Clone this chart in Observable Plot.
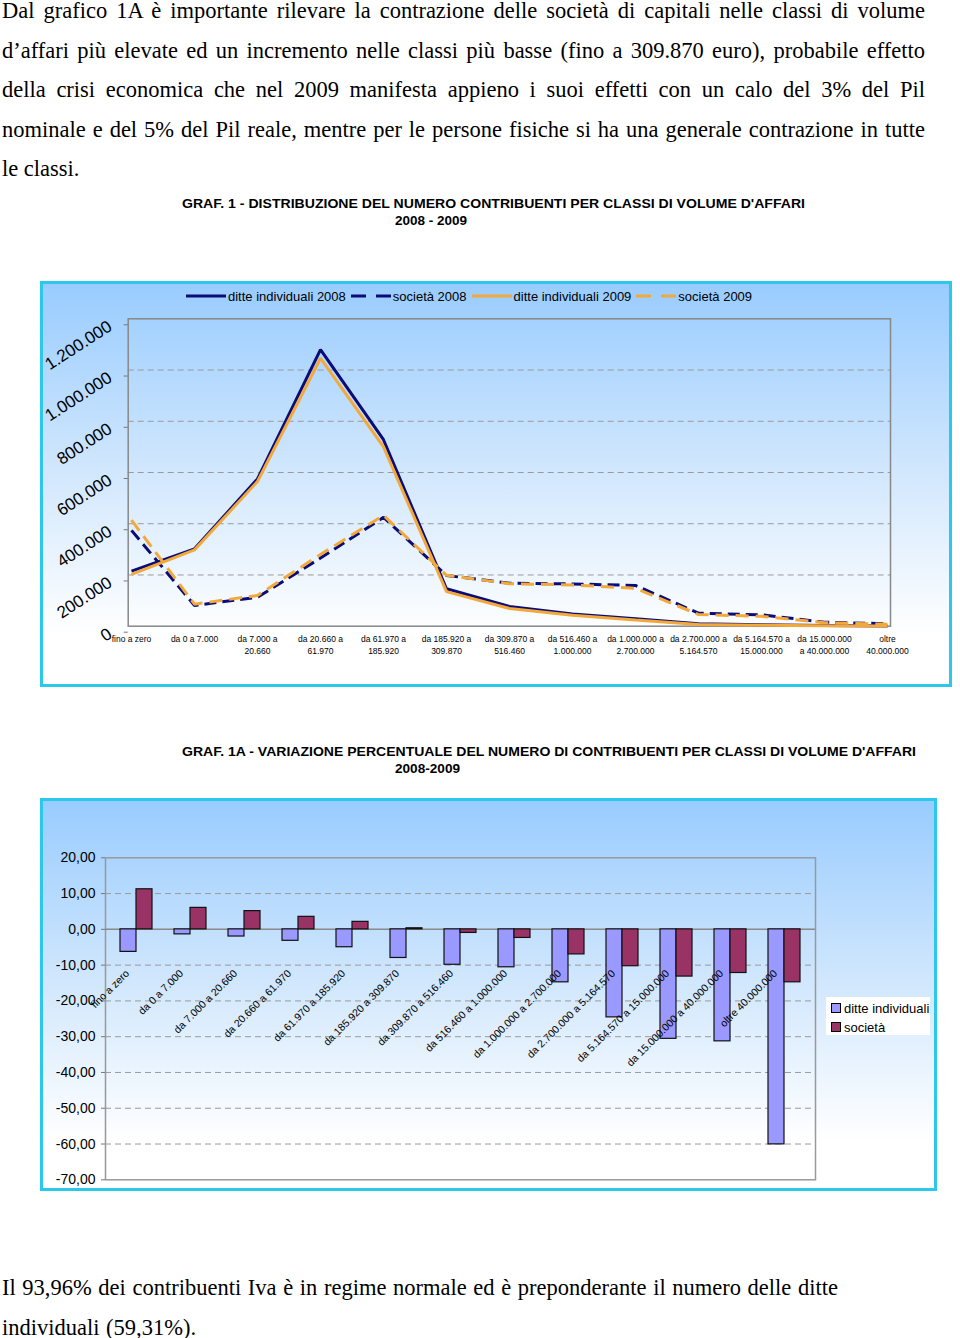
<!DOCTYPE html>
<html><head><meta charset="utf-8">
<script src="https://cdn.jsdelivr.net/npm/d3@7"></script>
<script src="https://cdn.jsdelivr.net/npm/@observablehq/plot@0.6"></script>
<style>
body{margin:0;background:#fff;width:960px;height:1338px;position:relative;overflow:hidden;font-family:"Liberation Sans",Arial,sans-serif;color:#000;}
.para{position:absolute;left:2px;width:923px;font-family:"Liberation Serif","Times New Roman",serif;font-size:22.5px;line-height:39.5px;color:#000;}
.para div{white-space:nowrap;text-align:justify;text-align-last:justify;}
.para div.last{text-align-last:left;}
.para.left div{text-align:left;text-align-last:left;word-spacing:1px;}
.box{position:absolute;box-sizing:border-box;border:3px solid #2cc8ec;background:linear-gradient(to bottom,#99ccff 0%,#cfe6fd 45%,#ffffff 88%);}
.box svg{position:absolute;left:0;top:0;overflow:visible;}
.ttl{position:absolute;left:0;width:960px;height:40px;overflow:visible;}
.leg1{position:absolute;display:flex;align-items:center;gap:5px;font-size:13px;white-space:nowrap;}
.leg1 .it{display:flex;align-items:center;gap:2px;}
.leg2{position:absolute;background:#fff;font-size:13px;box-sizing:border-box;padding:2px 0 0 5px;line-height:19px;}
.leg2 .sq{display:inline-block;width:8px;height:8px;border:1px solid #000;margin-right:3px;vertical-align:0px;}
</style></head>
<body>
<script>
// ---------- DATA ----------
const categories = ["fino a zero","da 0 a 7.000","da 7.000 a 20.660","da 20.660 a 61.970","da 61.970 a 185.920","da 185.920 a 309.870","da 309.870 a 516.460","da 516.460 a 1.000.000","da 1.000.000 a 2.700.000","da 2.700.000 a 5.164.570","da 5.164.570 a 15.000.000","da 15.000.000 a 40.000.000","oltre 40.000.000"];
const categoryLabels1 = ["fino a zero","da 0 a 7.000","da 7.000 a\n20.660","da 20.660 a\n61.970","da 61.970 a\n185.920","da 185.920 a\n309.870","da 309.870 a\n516.460","da 516.460 a\n1.000.000","da 1.000.000 a\n2.700.000","da 2.700.000 a\n5.164.570","da 5.164.570 a\n15.000.000","da 15.000.000\na 40.000.000","oltre\n40.000.000"];
const series1 = ["ditte individuali 2008","società 2008","ditte individuali 2009","società 2009"];
const ditte2008   = [215000, 302000, 575000, 1080000, 728000, 146000, 77000, 48000, 29000, 9500, 5500, 2500, 1000];
const societa2008 = [374000, 81000, 113000, 266000, 425000, 198000, 168000, 165000, 159000, 51000, 44500, 15500, 9500];
const ditte2009   = [202000, 298000, 565000, 1046000, 700000, 135000, 69000, 42500, 24000, 7000, 3800, 1700, 400];
const societa2009 = [414000, 86000, 120000, 280000, 433000, 199000, 166000, 161000, 148000, 45500, 38500, 13500, 8000];
const yTicks1 = [0, 200000, 400000, 600000, 800000, 1000000, 1200000];

const series2 = ["ditte individuali","società"];
const varDitte   = [-6.3, -1.4, -2.0, -3.2, -5.0, -8.0, -9.9, -10.6, -14.8, -24.6, -30.6, -31.3, -60.1];
const varSocieta = [11.2, 6.0, 5.1, 3.5, 2.1, 0.3, -1.0, -2.4, -7.0, -10.3, -13.2, -12.2, -14.8];
const yTicks2 = [20, 10, 0, -10, -20, -30, -40, -50, -60, -70];

const paraTop = ["Dal grafico 1A  è  importante rilevare la contrazione delle società  di capitali nelle classi di volume",
 "d’affari più elevate ed un incremento nelle classi più basse (fino a 309.870 euro), probabile effetto",
 "della crisi economica che nel 2009 manifesta appieno i suoi effetti con un  calo del 3% del Pil",
 "nominale e del 5% del Pil reale, mentre per le persone fisiche si ha una generale contrazione in tutte",
 "le classi."];
const paraBottom = ["Il 93,96% dei contribuenti Iva è in regime normale ed è preponderante il numero delle ditte",
 "individuali (59,31%)."];
const title1 = ["GRAF. 1 - DISTRIBUZIONE DEL NUMERO CONTRIBUENTI PER CLASSI DI VOLUME D'AFFARI", "2008 - 2009"];
const title2 = ["GRAF. 1A - VARIAZIONE PERCENTUALE DEL NUMERO DI CONTRIBUENTI PER CLASSI DI  VOLUME D'AFFARI", "2008-2009"];

const navy = "#0c0c78", orange = "#f3a83a", lilac = "#9999ff", wine = "#993366";
const seriesStyle = {
  "ditte individuali 2008": {stroke: navy, dash: null},
  "società 2008": {stroke: navy, dash: "12,6"},
  "ditte individuali 2009": {stroke: orange, dash: null},
  "società 2009": {stroke: orange, dash: "13,7"}
};

// ---------- helpers ----------
function addPara(lines, top, cls) {
  const p = document.createElement("div");
  p.className = "para" + (cls ? " " + cls : ""); p.style.top = top + "px";
  lines.forEach((l, i) => {
    const d = document.createElement("div");
    d.textContent = l;
    if (i === lines.length - 1) d.className = "last";
    p.appendChild(d);
  });
  document.body.appendChild(p);
}
function addTitle(lines, top, x1, w1, x2, w2) {
  const ns = "http://www.w3.org/2000/svg";
  const s = document.createElementNS(ns, "svg");
  s.setAttribute("class", "ttl"); s.style.top = top + "px";
  s.setAttribute("width", 960); s.setAttribute("height", 40);
  [[lines[0], x1, w1, 12], [lines[1], x2, w2, 29]].forEach(([t, x, w, y]) => {
    const e = document.createElementNS(ns, "text");
    e.setAttribute("x", x); e.setAttribute("y", y);
    e.setAttribute("textLength", w); e.setAttribute("lengthAdjust", "spacingAndGlyphs");
    e.setAttribute("font-family", "Liberation Sans, Arial, sans-serif");
    e.setAttribute("font-weight", "bold"); e.setAttribute("font-size", "13");
    e.textContent = t; s.appendChild(e);
  });
  document.body.appendChild(s);
}
const itFmt = d => d3.format(",")(d).replace(/,/g, ".");

addPara(paraTop, -9);
addPara(paraBottom, 1268, "left");
addTitle(title1, 196, 182, 623, 395, 72);
addTitle(title2, 744, 182, 734, 395, 65);

// ---------- CHART 1 ----------
const box1 = document.createElement("div");
box1.className = "box";
Object.assign(box1.style, {left: "40px", top: "281px", width: "912px", height: "406px"});
document.body.appendChild(box1);

const rows1 = [];
[ditte2008, societa2008, ditte2009, societa2009].forEach((vals, k) =>
  vals.forEach((v, i) => rows1.push({serie: series1[k], classe: categories[i], valore: v})));

const plot1 = Plot.plot({
  width: 906, height: 400,
  marginLeft: 84.7, marginRight: 59, marginTop: 34.3, marginBottom: 58.3,
  style: {background: "transparent", fontFamily: "Liberation Sans, Arial, sans-serif", color: "#000", overflow: "visible"},
  x: {type: "point", domain: categories, padding: 0, axis: null},
  y: {domain: [0, 1200000], axis: null},
  marks: [
    Plot.ruleY(yTicks1.filter(d => d > 0 && d < 1200000), {stroke: "#9a9a9a", strokeDasharray: "6,4", strokeWidth: 1}),
    Plot.frame({stroke: "#888", strokeWidth: 1.5}),
    Plot.axisY(yTicks1, {label: null, tickSize: 4, tickPadding: 14, tickRotate: -33, fontSize: 17, dy: 6, stroke: "#777", tickFormat: itFmt}),
    Plot.axisX(categories, {label: null, tickSize: 0, tickPadding: 7, fontSize: 8.5, lineHeight: 1.4,
      tickFormat: d => categoryLabels1[categories.indexOf(d)]}),
    ...series1.map(s => Plot.line(rows1.filter(r => r.serie === s), {
      x: "classe", y: "valore", stroke: seriesStyle[s].stroke, strokeWidth: 3,
      strokeDasharray: seriesStyle[s].dash, strokeLinejoin: "miter", strokeLinecap: "butt"
    }))
  ]
});
plot1.style.left = "0px"; plot1.style.top = "0px";
box1.appendChild(plot1);

// legend chart 1
const leg1 = document.createElement("div");
leg1.className = "leg1";
Object.assign(leg1.style, {left: "186px", top: "288px", height: "16px"});
series1.forEach(s => {
  const it = document.createElement("div"); it.className = "it";
  const st = seriesStyle[s];
  it.innerHTML = `<svg width="40" height="6"><line x1="0" x2="40" y1="3" y2="3" stroke="${st.stroke}" stroke-width="3" ${st.dash ? `stroke-dasharray="15,10"` : ""}/></svg><span>${s}</span>`;
  leg1.appendChild(it);
});
document.body.appendChild(leg1);

// ---------- CHART 2 ----------
const box2 = document.createElement("div");
box2.className = "box";
Object.assign(box2.style, {left: "40px", top: "798px", width: "897px", height: "393px"});
document.body.appendChild(box2);

const rows2 = [];
categories.forEach((c, i) => {
  rows2.push({classe: c, serie: series2[0], valore: varDitte[i]});
  rows2.push({classe: c, serie: series2[1], valore: varSocieta[i]});
});

const plot2 = Plot.plot({
  width: 891, height: 387,
  marginLeft: 62, marginRight: 119, marginTop: 56.3, marginBottom: 8.7,
  style: {background: "transparent", fontFamily: "Liberation Sans, Arial, sans-serif", color: "#000", overflow: "visible"},
  x: {type: "band", domain: categories, paddingInner: 0.414, paddingOuter: 0.207, axis: null},
  y: {domain: [-70, 20], axis: null},
  color: {domain: series2, range: [lilac, wine]},
  marks: [
    Plot.ruleY(yTicks2.filter(d => d !== 20 && d !== -70 && d !== 0), {stroke: "#9a9a9a", strokeDasharray: "6,4", strokeWidth: 1}),
    Plot.frame({stroke: "#999", strokeWidth: 1.5}),
    Plot.ruleY([0], {stroke: "#8a8a8a", strokeWidth: 1.5}),
    Plot.axisY(yTicks2, {label: null, tickSize: 4, tickPadding: 6, fontSize: 14, stroke: "#777",
      tickFormat: d => d.toFixed(2).replace(".", ",")}),
    Plot.barY(rows2.filter(r => r.serie === series2[0]), {x: "classe", y: "valore", fill: "serie", stroke: "#111", strokeWidth: 1.2, insetRight: 16}),
    Plot.barY(rows2.filter(r => r.serie === series2[1]), {x: "classe", y: "valore", fill: "serie", stroke: "#111", strokeWidth: 1.2, insetLeft: 16}),
    Plot.axisX(categories, {label: null, tickSize: 0, tickRotate: -45, fontSize: 10.5, textAnchor: "end", dx: -9, dy: -220})
  ]
});
plot2.style.left = "0px"; plot2.style.top = "0px";
box2.appendChild(plot2);

// legend chart 2
const leg2 = document.createElement("div");
leg2.className = "leg2";
Object.assign(leg2.style, {left: "826px", top: "997px", width: "104px", height: "38px"});
leg2.innerHTML = series2.map((s, i) => `<div><span class="sq" style="background:${[lilac, wine][i]}"></span>${s}</div>`).join("");
document.body.appendChild(leg2);
</script>
</body></html>
